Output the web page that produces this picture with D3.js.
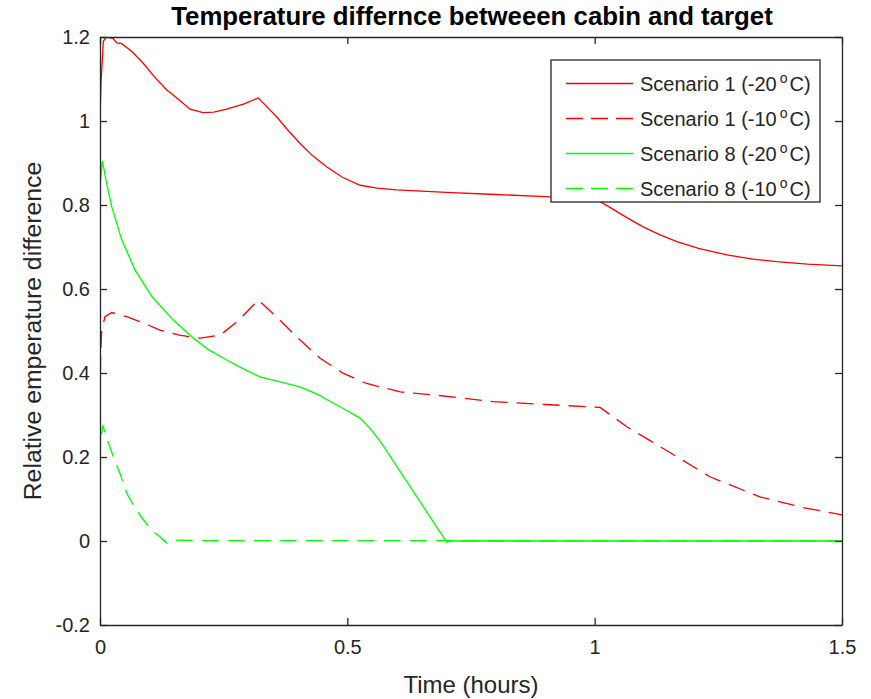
<!DOCTYPE html>
<html>
<head>
<meta charset="utf-8">
<script src="https://cdn.jsdelivr.net/npm/d3@7"></script>
<style>
	body { margin: 0; background: #fff; }
	text { font-family: "Liberation Sans", Arial, sans-serif; fill: #262626; }
</style>
</head>
<body>
<div id="chart"></div>
<script>
//////////////////////////// data /////////////////////////////////////////

// [time (hours), relative temperature difference]
const s1Cold = [
	[0, 1.0], [0.002, 1.09], [0.0067, 1.19], [0.0135, 1.2], [0.026, 1.197],
	[0.034, 1.186], [0.044, 1.184], [0.065, 1.165], [0.087, 1.138], [0.11, 1.105],
	[0.135, 1.074], [0.148, 1.062], [0.165, 1.045], [0.182, 1.028], [0.208, 1.02],
	[0.23, 1.021], [0.256, 1.028], [0.29, 1.04], [0.32, 1.055], [0.357, 1.01],
	[0.38, 0.978], [0.404, 0.947], [0.43, 0.917], [0.458, 0.891], [0.49, 0.866],
	[0.526, 0.847], [0.56, 0.84], [0.6, 0.836], [0.7, 0.83], [0.8, 0.825],
	[0.9, 0.82], [0.97, 0.817], [1.0, 0.815], [1.03, 0.795], [1.065, 0.77],
	[1.098, 0.748], [1.13, 0.73], [1.166, 0.713], [1.21, 0.697], [1.267, 0.681],
	[1.32, 0.671], [1.368, 0.665], [1.43, 0.659], [1.5, 0.655]
];

const s1Mild = [
	[0, 0.336], [0.0015, 0.45], [0.0034, 0.502], [0.0101, 0.534], [0.0237, 0.544],
	[0.054, 0.534], [0.09, 0.518], [0.121, 0.502], [0.16, 0.49], [0.202, 0.483],
	[0.243, 0.49], [0.28, 0.525], [0.32, 0.574], [0.36, 0.53], [0.404, 0.479],
	[0.445, 0.435], [0.492, 0.399], [0.539, 0.375], [0.607, 0.355], [0.673, 0.348],
	[0.795, 0.332], [0.9, 0.325], [1.011, 0.318], [1.065, 0.272], [1.132, 0.225],
	[1.233, 0.153], [1.334, 0.105], [1.42, 0.08], [1.5, 0.062]
];

const s8Cold = [
	[0, 1.0], [0.0005, 0.85], [0.0047, 0.905], [0.012, 0.86], [0.0236, 0.796],
	[0.044, 0.717], [0.071, 0.645], [0.105, 0.582], [0.148, 0.526], [0.189, 0.483],
	[0.22, 0.455], [0.256, 0.431], [0.29, 0.41], [0.323, 0.391], [0.36, 0.38],
	[0.404, 0.367], [0.44, 0.349], [0.472, 0.328], [0.5, 0.31], [0.526, 0.292],
	[0.549, 0.264], [0.569, 0.233], [0.701, -0.003], [0.71, 0], [1.5, 0]
];

const s8Mild = [
	[0, 0.336], [0.001, 0.233], [0.0055, 0.276], [0.012, 0.25], [0.02, 0.224],
	[0.03, 0.19], [0.04, 0.162], [0.054, 0.114], [0.07, 0.08], [0.088, 0.05],
	[0.105, 0.025], [0.121, 0.01], [0.135, -0.005], [0.145, 0.002], [0.2, 0.001],
	[0.3, 0.001], [1.5, 0]
];

const seriesNames = ["Scenario 1 (-20", "Scenario 1 (-10", "Scenario 8 (-20", "Scenario 8 (-10"];
const seriesColors = ["#ff0000", "#ff0000", "#00ff00", "#00ff00"];
const seriesDashed = [false, true, false, true];
const seriesData = [s1Cold, s1Mild, s8Cold, s8Mild];

const xTicks = [0, 0.5, 1, 1.5];
const yTicks = [-0.2, 0, 0.2, 0.4, 0.6, 0.8, 1, 1.2];

//////////////////////////// sizes ///////////////////////////////////////

const width = 871;
const height = 699;
const margin = { top: 37, right: 29, bottom: 74, left: 100 };
const boundedWidth = width - margin.left - margin.right;
const boundedHeight = height - margin.top - margin.bottom;

const svg = d3.select("#chart").append("svg")
	.attr("width", width)
	.attr("height", height);

const bounds = svg.append("g")
	.attr("transform", `translate(${margin.left},${margin.top})`);

//////////////////////////// scales ///////////////////////////////////////

const xScale = d3.scaleLinear().domain([0, 1.5]).range([0, boundedWidth]);
const yScale = d3.scaleLinear().domain([-0.2, 1.2]).range([boundedHeight, 0]);

//////////////////////////// lines ////////////////////////////////////////

const line = d3.line()
	.x((d) => xScale(d[0]))
	.y((d) => yScale(d[1]));

bounds.append("defs").append("clipPath").attr("id", "clip")
	.append("rect").attr("width", boundedWidth).attr("height", boundedHeight);

bounds.append("g").attr("clip-path", "url(#clip)")
	.selectAll("path")
	.data(seriesData)
	.join("path")
	.attr("d", line)
	.attr("fill", "none")
	.attr("stroke", (d, i) => seriesColors[i])
	.attr("stroke-width", 1.3)
	.attr("stroke-dasharray", (d, i) => (seriesDashed[i] ? "17,9" : null));

//////////////////////////// axes /////////////////////////////////////////

const styleAxis = (g) => {
	g.select(".domain").attr("stroke", "#262626").attr("stroke-width", 1.3);
	g.selectAll(".tick line").attr("stroke", "#262626").attr("stroke-width", 1.3);
	g.selectAll(".tick text")
		.attr("fill", "#262626")
		.style("font-family", '"Liberation Sans", Arial, sans-serif')
		.style("font-size", "20px");
};

bounds.append("g")
	.attr("transform", `translate(0,${boundedHeight})`)
	.call(d3.axisBottom(xScale).tickValues(xTicks).tickSize(-7).tickSizeOuter(0)
		.tickPadding(15).tickFormat((d) => String(d)))
	.call(styleAxis);

bounds.append("g")
	.call(d3.axisLeft(yScale).tickValues(yTicks).tickSize(-7).tickSizeOuter(0)
		.tickPadding(10).tickFormat((d) => String(d)))
	.call(styleAxis);

bounds.append("g")
	.call(d3.axisTop(xScale).tickValues(xTicks).tickSize(-7).tickSizeOuter(0)
		.tickFormat(""))
	.call(styleAxis);

bounds.append("g")
	.attr("transform", `translate(${boundedWidth},0)`)
	.call(d3.axisRight(yScale).tickValues(yTicks).tickSize(-7).tickSizeOuter(0)
		.tickFormat(""))
	.call(styleAxis);

//////////////////////////// labels ///////////////////////////////////////

svg.append("text")
	.attr("x", 472)
	.attr("y", 25)
	.attr("text-anchor", "middle")
	.style("font-size", "25.8px")
	.style("font-weight", "bold")
	.style("fill", "#000")
	.text("Temperature differnce betweeen cabin and target");

svg.append("text")
	.attr("x", margin.left + boundedWidth / 2)
	.attr("y", 693)
	.attr("text-anchor", "middle")
	.style("font-size", "24px")
	.text("Time (hours)");

svg.append("text")
	.attr("transform", `translate(41,${margin.top + boundedHeight / 2}) rotate(-90)`)
	.attr("text-anchor", "middle")
	.style("font-size", "24.8px")
	.text("Relative emperature difference");

//////////////////////////// legend ///////////////////////////////////////

const legend = svg.append("g").attr("transform", "translate(551,60)");

legend.append("rect")
	.attr("width", 269)
	.attr("height", 142)
	.attr("fill", "#fff")
	.attr("stroke", "#262626")
	.attr("stroke-width", 1.3);

const rows = legend.selectAll(".row")
	.data(seriesNames)
	.join("g")
	.attr("class", "row")
	.attr("transform", (d, i) => `translate(0,${23.5 + i * 35})`);

rows.append("line")
	.attr("x1", 15).attr("x2", 82)
	.attr("stroke", (d, i) => seriesColors[i])
	.attr("stroke-width", 1.3)
	.attr("stroke-dasharray", (d, i) => (seriesDashed[i] ? "17,8" : null));

const labels = rows.append("text")
	.attr("x", 89)
	.attr("y", 7)
	.style("font-size", "20px");

labels.append("tspan").text((d) => d);
labels.append("tspan").attr("dy", -8).attr("dx", 3).style("font-size", "14px").text("o");
labels.append("tspan").attr("dy", 8).attr("dx", 2).text("C)");
</script>
</body>
</html>
